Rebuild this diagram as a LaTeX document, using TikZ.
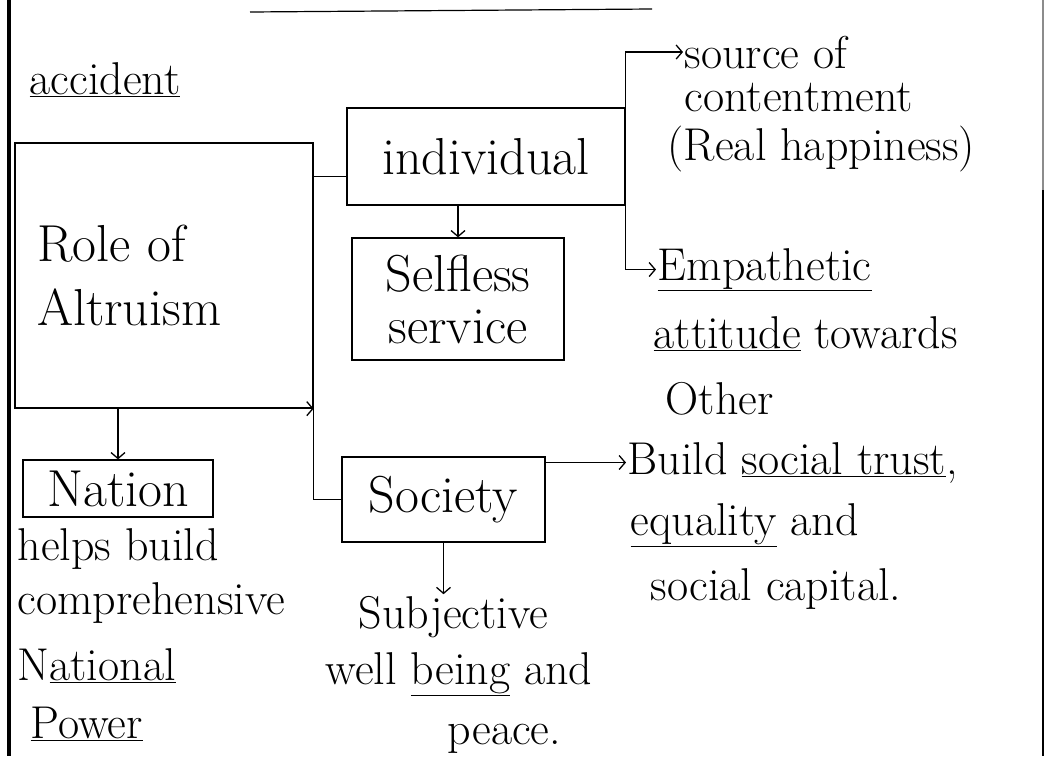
\documentclass[tikz,border=0pt]{standalone}
\usetikzlibrary{arrows.meta}
\tikzset{%
    hand/.style={font=\fontsize{46}{46}\selectfont, inner sep=1pt, anchor=base west},
    boxed/.style={draw, line width=1.3pt, font=\fontsize{52}{56}\selectfont,
        inner sep=4pt, align=center},
    uline/.style={line width=1.2pt}
}

\begin{document}
\begin{tikzpicture}[x=1pt,y=-1pt,line width=1.3pt,>={Straight Barb[length=6pt,width=14pt]}]
    \useasboundingbox (0,0) rectangle (1046,756);
    % page margins and the cut line above
    \draw[line width=3.5pt] (9,0)--(9,756);
    \draw[line width=1.2pt, black!45] (1043,0)--(1043,190);
    \draw[line width=1.5pt] (1043,190)--(1043,756);
    \draw[uline] (250,12)--(652,9);
    \node[hand] (acc) at (28,94) {\underline{accident}};
    % boxes
    \node[boxed, align=left, text width=254pt, minimum width=298pt, minimum height=265pt,
        font=\fontsize{52}{64}\selectfont] (rolebox) at (164,275.5) {Role of\\Altruism};
    \node[boxed, minimum width=278pt, minimum height=97pt] (individual) at (486,156.5) {individual};
    \node[boxed, minimum width=212pt, minimum height=122pt,
        font=\fontsize{52}{52}\selectfont] (selfless) at (458,299) {Selfless\\service};
    \node[boxed, minimum width=190pt, minimum height=57pt] (nation) at (118,488.5) {Nation};
    \node[boxed, minimum width=203pt, minimum height=85pt] (society) at (443.5,499.5) {Society};
    % texts
    \node[hand] (src1) at (683,68) {source of};
    \node[hand] (src2) at (683,111) {contentment};
    \node[hand] (src3) at (666,160) {(Real happiness)};
    \node[hand] (emp1) at (656,280) {\underline{Empathetic}};
    \node[hand] (emp2) at (652,348) {\underline{attitude} towards};
    \node[hand] (emp3) at (664,414) {Other};
    \node[hand] (bld1) at (626,474) {Build \underline{social trust},};
    \node[hand] (bld2) at (629,535) {\underline{equality} and};
    \node[hand] (bld3) at (649,600) {social capital.};
    \node[hand] (subj1) at (357,628) {Subjective};
    \node[hand] (subj2) at (324,684) {well \underline{being} and};
    \node[hand] (subj3) at (446,744) {peace.};
    \node[hand] (nat1) at (16,560) {helps build};
    \node[hand] (nat2) at (16,614) {comprehensive};
    \node[hand] (nat3) at (16,680) {N\underline{ational}};
    \node[hand] (nat4) at (29,738) {\underline{Power}};
    % connectors
    \path (individual.south west) ++(0,-29) coordinate (indl);
    \draw (rolebox.east |- indl) -- (indl);
    \draw (rolebox.south east) |- (society.west);
    \draw[->] ([xshift=-30pt]rolebox.south east) -- (rolebox.south east);
    \draw[->] (rolebox.south -| nation.north) -- (nation.north);
    \draw[->] (individual.south -| selfless.north) -- (selfless.north);
    \draw[->] (individual.east) |- (src1.west);
    \draw[->] (individual.east) |- (emp1.west);
    \draw[->] (bld1.west -| society.east) -- (bld1.west);
    \draw[->] (society.south) -- (society.south |- subj1.north);
\end{tikzpicture}
\end{document}
